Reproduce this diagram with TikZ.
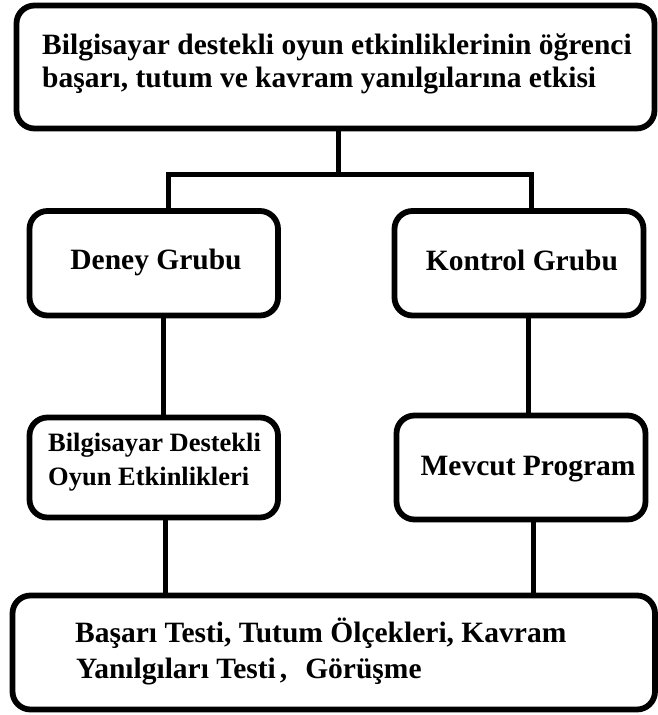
\documentclass[tikz,border=0pt]{standalone}
\usepackage{fontspec}
\setmainfont{Liberation Serif}
\begin{document}
\begin{tikzpicture}[x=1pt,y=-1pt,
  box/.style={draw, line width=5.8pt, rounded corners=18pt, inner sep=0pt},
  conn/.style={line width=5pt},
  lbl/.style={font=\bfseries\fontsize{29.5}{33}\selectfont, inner sep=0pt},
  lblsmall/.style={font=\bfseries\fontsize{26.5}{33}\selectfont, inner sep=0pt}]
\fill[white] (0,0) rectangle (658,715);
\useasboundingbox (0,0) rectangle (658,715);

% boxes
\node[box, minimum width=638pt, minimum height=123pt] (top) at (335.5,67) {};
\node[box, minimum width=248.5pt, minimum height=104.5pt] (deney) at (153.75,263.25) {};
\node[box, minimum width=249pt, minimum height=104.5pt] (kontrol) at (519,263.25) {};
\node[box, minimum width=248.5pt, minimum height=100pt] (bil) at (153.75,467.5) {};
\node[box, minimum width=249pt, minimum height=104pt] (mevcut) at (521,467.5) {};
\node[box, minimum width=642.5pt, minimum height=114pt] (bottom) at (333.75,652.5) {};

% labels
\node[lbl, anchor=base west] (t1) at (42,54) {Bilgisayar destekli oyun etkinliklerinin öğrenci};
\node[lbl, anchor=base west] (t2) at (42,87) {başarı, tutum ve kavram yanılgılarına etkisi};
\node[lbl, anchor=base] (deneyt) at (156,269) {Deney Grubu};
\node[lbl, anchor=base] (kontrolt) at (522,270) {Kontrol Grubu};
\node[lblsmall, anchor=base west] (b1) at (48,451) {Bilgisayar Destekli};
\node[lblsmall, anchor=base west] (b2) at (48,485) {Oyun Etkinlikleri};
\node[lbl, anchor=base] (mevcutt) at (528,475) {Mevcut Program};
\node[lbl, anchor=base west] (s1) at (75,642) {Başarı Testi, Tutum Ölçekleri, Kavram};
\node[lbl, anchor=base west] (s2) at (76,678) {Yanılgıları Testi\hspace{4pt},\hspace{18pt}Görüşme};

% connectors
\coordinate (jm) at (338,174);
\coordinate (jl) at (168,174);
\coordinate (jr) at (531,174);
\draw[conn] (top.south -| jm) -- (jm);
\draw[conn] (deney.north -| jl) -- (jl) -- (jr) -- (kontrol.north -| jr);
\draw[conn] (deney.south -| 163,0) -- (bil.north -| 163,0);
\draw[conn] (kontrol.south -| 528,0) -- (mevcut.north -| 528,0);
\draw[conn] (bil.south -| 165,0) -- (bottom.north -| 165,0);
\draw[conn] (mevcut.south -| 533,0) -- (bottom.north -| 533,0);
\end{tikzpicture}
\end{document}
